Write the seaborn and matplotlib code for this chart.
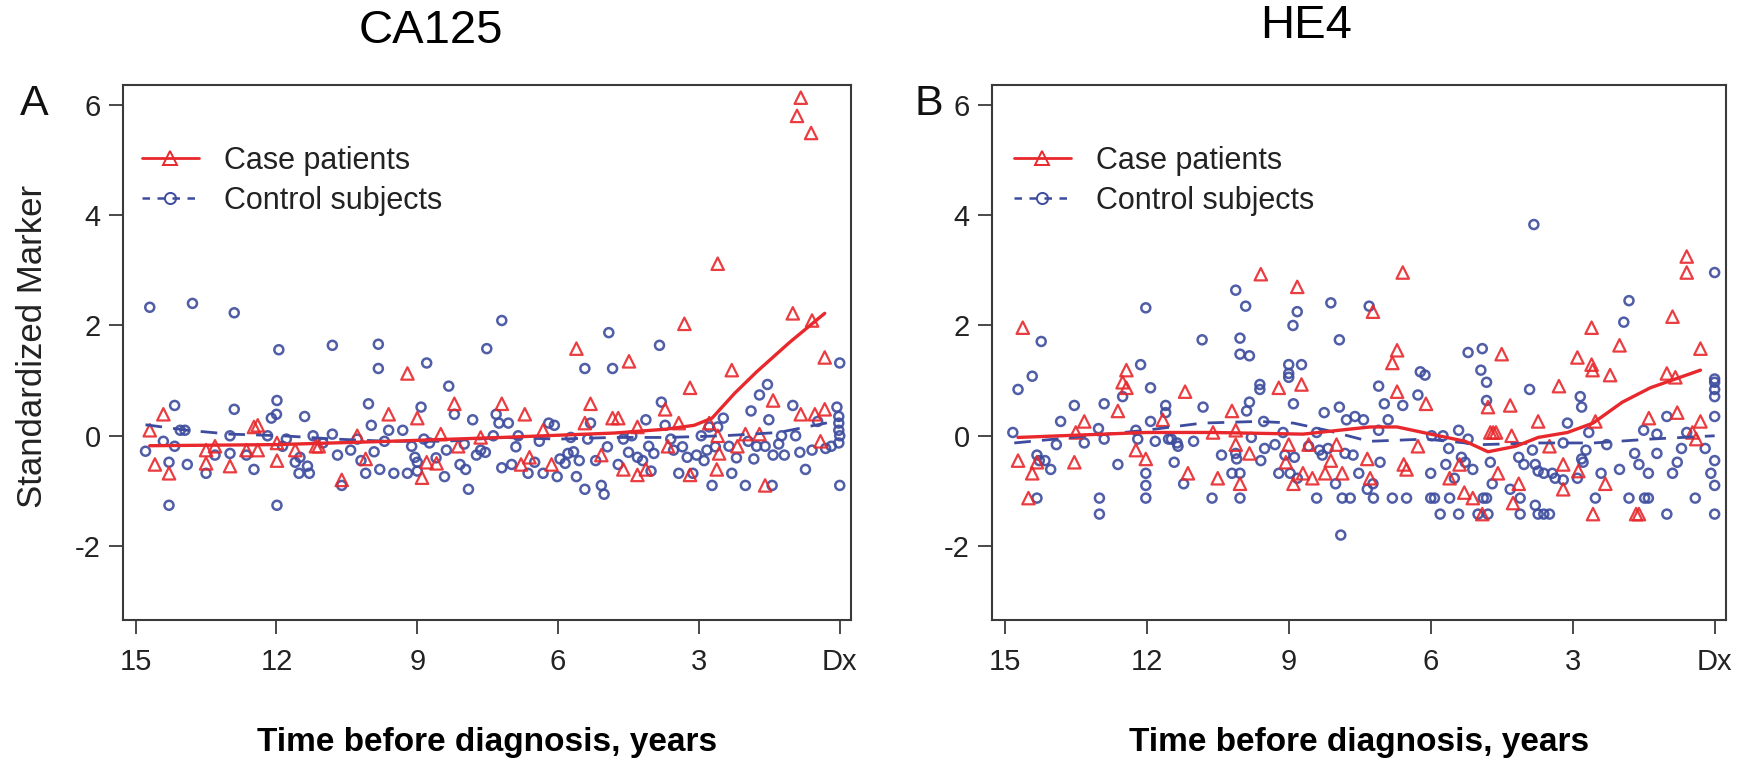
import numpy as np
import pandas as pd
import matplotlib
matplotlib.use("Agg")
import matplotlib.pyplot as plt
from matplotlib.lines import Line2D
import seaborn as sns

# ---------------- data ----------------
# Panel A (CA125)
a_case_t = [14.70, 14.59, 14.41, 14.29, 13.50, 13.50, 13.31, 12.99, 12.64, 12.48, 12.40, 12.40, 11.99, 11.99,
            11.60, 11.16, 11.10, 10.61, 10.28, 10.10, 9.61, 9.21, 9.00, 8.90, 8.80, 8.59, 8.50, 8.21, 8.13,
            7.65, 7.20, 6.71, 6.79, 6.61, 6.32, 6.14, 5.61, 5.43, 5.31, 5.08, 4.84, 4.72, 4.61, 4.49, 4.31,
            4.31, 4.13, 3.72, 3.66, 3.43, 3.31, 3.19, 3.19, 2.78, 2.60, 2.60, 2.57, 2.62, 2.30, 2.18, 2.01,
            1.71, 1.59, 1.42, 1.00, 0.91, 0.83, 0.83, 0.61, 0.59, 0.53, 0.41, 0.32, 0.32]
a_case_v = [0.10, -0.52, 0.39, -0.68, -0.50, -0.26, -0.19, -0.55, -0.26, 0.16, 0.19, -0.26, -0.45, -0.13,
            -0.26, -0.19, -0.19, -0.80, 0.00, -0.42, 0.39, 1.13, 0.32, -0.76, -0.48, -0.50, 0.03, 0.58, -0.19,
            -0.03, 0.58, 0.39, -0.52, -0.39, 0.10, -0.52, 1.58, 0.23, 0.58, -0.35, 0.32, 0.32, -0.61, 1.35, 0.16,
            -0.71, -0.61, 0.48, -0.19, 0.23, 2.03, 0.87, -0.71, 0.23, 3.12, 0.00, -0.32, -0.61, 1.19, -0.19, 0.03,
            0.03, -0.90, 0.64, 2.22, 5.80, 6.13, 0.39, 5.49, 2.09, 0.39, -0.10, 1.42, 0.48]

a_ctrl_t = [14.70, 13.79, 12.90, 14.79, 14.41, 14.29, 14.29, 14.17, 14.17, 14.05, 13.95, 13.90, 13.50, 13.31,
            12.99, 12.99, 12.90, 12.64, 12.48, 12.19, 12.11, 12.00, 11.99, 11.99, 11.95, 11.87, 11.79, 11.60,
            11.52, 11.50, 11.40, 11.34, 11.30, 11.22, 11.01, 10.81, 10.81, 10.61, 10.42, 10.28, 10.10, 10.04,
            9.98, 9.92, 9.83, 9.83, 9.80, 9.61, 9.50, 9.31, 9.21, 9.12, 9.05, 9.00, 9.00, 8.92, 8.86, 8.80,
            8.74, 8.42, 8.38, 8.33, 8.21, 8.09, 7.97, 7.91, 7.82, 7.74, 7.65, 7.52, 7.38, 7.32, 7.26, 7.20,
            7.20, 7.06, 6.99, 6.85, 6.64, 6.50, 6.32, 6.20, 6.08, 6.02, 5.96, 5.79, 5.73, 5.67, 5.61, 5.43,
            5.43, 5.37, 5.31, 5.20, 5.08, 5.02, 4.92, 4.84, 4.72, 4.61, 4.43, 4.31, 4.13, 4.07, 4.02, 3.96,
            3.84, 3.80, 3.72, 3.60, 3.54, 3.43, 3.25, 3.13, 2.95, 2.89, 2.83, 2.78, 2.72, 2.60, 2.48, 2.36,
            2.30, 2.01, 1.89, 1.83, 1.77, 1.71, 1.59, 1.54, 1.51, 1.44, 1.42, 1.24, 1.18, 1.00, 0.94, 0.73,
            0.59, 0.47, 0.30, 0.18, 0.06, 0.02, 0.02, 0.02, 0.00, 0.02, 0.00, 0.00,
            10.70, 10.20, 9.70, 8.60, 8.00, 7.55, 6.90, 6.40, 5.85, 5.55, 4.95, 4.50, 4.20, 3.35, 3.05, 2.65,
            2.20, 1.95, 1.30, 0.85]
a_ctrl_v = [2.33, 2.40, 2.23, -0.28, -0.10, -0.48, -1.26, 0.55, -0.19, 0.10, 0.10, -0.52, -0.68, -0.35,
            -0.32, 0.00, 0.48, -0.35, -0.61, 0.00, 0.32, 0.39, 0.64, -1.26, 1.56, -0.19, -0.06, -0.48,
            -0.68, -0.39, 0.35, -0.55, -0.68, 0.00, -0.13, 0.03, 1.64, -0.90, -0.26, -0.06, -0.68, 0.58,
            0.19, -0.29, 1.66, 1.22, -0.61, 0.10, -0.68, 0.10, -0.68, -0.19, -0.39, -0.48, -0.64, 0.52, -0.06, 1.32,
            -0.13, -0.74, -0.26, 0.90, 0.39, -0.52, -0.61, -0.97, 0.29, -0.35, -0.26, 1.58, 0.00, 0.39, 0.23, 2.09,
            -0.58, 0.23, -0.52, 0.00, -0.68, -0.48, -0.68, 0.23, 0.19, -0.74, -0.42, -0.32, -0.03, -0.29, -0.74, -0.97,
            1.22, -0.06, 0.23, -0.45, -0.90, -1.06, 1.87, 1.22, -0.52, -0.06, 0.00, -0.39, 0.29, -0.19, -0.64, -0.32,
            1.64, 0.61, 0.19, -0.06, -0.26, -0.68, -0.39, -0.68, 0.00, -0.45, -0.26, 0.16, -0.90, 0.16, 0.32, -0.19,
            -0.68, -0.90, 0.45, -0.42, -0.19, 0.74, -0.19, 0.93, 0.29, -0.90, -0.35, 0.00, -0.35, 0.55, 0.00, -0.61,
            -0.26, 0.26, -0.23, -0.19, 0.52, 0.35, 0.23, 0.10, 0.00, -0.13, -0.90, 1.32,
            -0.35, -0.45, -0.10, -0.40, -0.15, -0.30, -0.20, -0.10, -0.50, -0.45, -0.20, -0.30, -0.45, -0.20, -0.35, -0.20,
            -0.40, -0.10, -0.15, -0.30]

a_case_fit_t = [14.70, 12.00, 9.60, 7.20, 6.00, 4.80, 3.70, 3.10, 2.72, 2.24, 1.77, 1.06, 0.32]
a_case_fit_v = [-0.18, -0.16, -0.10, -0.03, 0.01, 0.05, 0.12, 0.19, 0.32, 0.77, 1.16, 1.70, 2.22]
a_ctrl_fit_t = [14.79, 13.90, 12.99, 11.87, 10.75, 9.60, 8.40, 7.20, 6.00, 4.84, 3.66, 2.48, 1.30, 0.00]
a_ctrl_fit_v = [0.20, 0.10, 0.03, 0.00, -0.06, -0.10, -0.10, -0.03, -0.06, -0.03, -0.03, 0.00, 0.06, 0.28]

# Panel B (HE4)
b_case_t = [14.72, 14.62, 14.50, 14.42, 14.32, 13.53, 13.50, 13.32, 12.61, 12.51, 12.43, 12.43, 12.23, 12.02,
            11.66, 11.19, 11.13, 10.60, 10.50, 10.20, 10.12, 10.12, 10.03, 9.83, 9.59, 9.21, 9.06, 9.00, 8.90,
            8.82, 8.73, 8.70, 8.58, 8.50, 8.23, 8.11, 7.99, 7.87, 7.34, 7.28, 7.22, 6.81, 6.71, 6.71, 6.59,
            6.57, 6.51, 6.27, 6.10, 5.60, 5.39, 5.29, 5.11, 4.91, 4.79, 4.74, 4.68, 4.62, 4.58, 4.50, 4.32,
            4.29, 4.26, 4.14, 3.73, 3.49, 3.29, 3.20, 3.20, 2.90, 2.88, 2.60, 2.60, 2.58, 2.57, 2.52, 2.31,
            2.21, 2.01, 1.66, 1.60, 1.39, 1.01, 0.89, 0.83, 0.79, 0.59, 0.59, 0.47, 0.39, 0.30, 0.30]
b_case_v = [-0.45, 1.96, -1.13, -0.68, -0.48, -0.48, 0.06, 0.26, 0.45, 0.97, 1.19, 0.87, -0.26, -0.42,
            0.29, 0.80, -0.68, 0.06, -0.77, 0.45, 0.10, -0.16, -0.87, -0.32, 2.93, 0.87, -0.48, -0.16, -0.87,
            2.70, 0.93, -0.68, -0.16, -0.77, -0.68, -0.45, -0.16, -0.68, -0.42, -0.77, 2.25, 1.32, 1.55, 0.80, 2.96,
            -0.52, -0.61, -0.19, 0.58, -0.77, -0.52, -1.03, -1.13, -1.42, 0.52, 0.06, 0.06, 0.06, -0.68, 1.48, 0.55,
            0.00, -1.22, -0.87, 0.26, -0.19, 0.90, -0.52, -0.97, 1.42, -0.64, 1.96, 1.29, 1.19, -1.42, 0.26, -0.87,
            1.10, 1.64, -1.42, -1.42, 0.32, 1.13, 2.16, 1.06, 0.42, 3.25, 2.96, 0.06, -0.06, 1.58, 0.26]

b_ctrl_t = [14.83, 14.72, 14.42, 14.32, 14.27, 14.15, 14.03, 14.32, 14.23, 13.91, 13.82, 13.53, 13.32, 13.02,
            13.00, 13.00, 12.90, 12.90, 12.61, 12.51, 12.23, 12.19, 12.13, 12.02, 12.02, 12.02, 12.02, 11.92,
            11.92, 11.82, 11.60, 11.60, 11.54, 11.48, 11.42, 11.36, 11.34, 11.22, 11.01, 10.83, 10.81, 10.62,
            10.42, 10.20, 10.12, 10.12, 10.10, 10.03, 10.03, 10.03, 10.03, 9.91, 9.89, 9.83, 9.83, 9.79, 9.61,
            9.61, 9.59, 9.53, 9.51, 9.29, 9.21, 9.12, 9.08, 9.00, 9.00, 9.00, 8.97, 8.91, 8.90, 8.88, 8.82, 8.82,
            8.73, 8.58, 8.41, 8.41, 8.35, 8.29, 8.25, 8.17, 8.11, 8.01, 7.93, 7.93, 7.90, 7.87, 7.81, 7.78, 7.70,
            7.64, 7.60, 7.52, 7.42, 7.34, 7.30, 7.22, 7.21, 7.10, 7.10, 7.07, 6.98, 6.90, 6.81, 6.59, 6.51, 6.27,
            6.22, 6.12, 6.00, 6.00, 5.92, 5.98, 5.80, 5.74, 5.68, 5.62, 5.60, 5.50, 5.41, 5.41, 5.35, 5.27, 5.21,
            5.21, 5.11, 5.00, 4.94, 4.91, 4.89, 4.82, 4.82, 4.82, 4.79, 4.74, 4.70, 4.32, 4.14, 4.11, 4.11, 4.03,
            3.91, 3.82, 3.85, 3.79, 3.73, 3.79, 3.73, 3.61, 3.49, 3.61, 3.43, 3.37, 3.20, 3.20, 3.11, 2.90, 2.84,
            2.81, 2.81, 2.78, 2.66, 2.72, 2.52, 2.40, 2.28, 2.01, 1.92, 1.81, 1.81, 1.69, 1.60, 1.50, 1.48, 1.40,
            1.40, 1.22, 1.22, 1.01, 1.01, 0.89, 0.79, 0.70, 0.59, 0.41, 0.20, 0.08, 0.00, 0.00, 0.00, 0.00, 0.00,
            0.00, 0.00, 0.00, 0.00]
b_ctrl_v = [0.06, 0.84, 1.08, -0.35, -0.45, -0.45, -0.61, -1.13, 1.71, -0.16, 0.26, 0.55, -0.13, 0.13,
            -1.13, -1.42, 0.58, -0.06, -0.52, 0.71, 0.10, -0.06, 1.29, 2.32, -0.68, -0.90, -1.13, 0.87,
            0.26, -0.10, 0.55, 0.42, -0.06, -0.06, -0.48, -0.13, -0.19, -0.87, -0.10, 1.74, 0.52, -1.13,
            -0.35, -0.68, 2.64, -0.32, -0.42, 1.77, 1.48, -0.68, -1.13, 2.35, 0.45, 1.45, 0.61, -0.03, 0.93,
            0.84, -0.45, 0.26, -0.23, -0.16, -0.68, 0.06, -0.35, 1.29, 1.13, 1.06, -0.68, 2.00, 0.58, -0.39, 2.25, -0.77,
            1.29, -0.19, 0.06, -1.13, -0.26, -0.35, 0.42, -0.23, 2.41, -0.87, 0.52, 1.74, -1.80, -1.13, -0.32, 0.29, -1.13,
            -0.35, 0.35, -0.68, 0.29, -0.97, 2.35, -0.87, -1.13, 0.90, 0.10, -0.48, 0.58, 0.29, -1.13, 0.55, -1.13, 0.74,
            1.16, 1.10, -0.68, -1.13, -1.13, 0.00, -1.42, 0.00, -0.52, -0.23, -1.13, -0.77, 0.10, -1.42, -0.39, -0.48, -0.06,
            1.51, -0.61, -1.42, 1.19, 1.58, -1.13, -1.13, 0.97, 0.64, -1.42, -0.48, -0.87, -0.97, -0.39, -1.13, -1.42, -0.52,
            0.84, 3.83, -0.26, -0.52, -0.64, -1.26, -1.42, -1.42, -1.42, -0.68, -0.68, -0.77, -0.13, -0.80, 0.23, -0.77, 0.71,
            0.52, -0.42, -0.48, 0.06, -0.26, -1.13, -0.68, -0.16, -0.61, 2.06, 2.45, -1.13, -0.32, -0.52, 0.10, -1.13, -1.13,
            -0.68, 0.03, -0.32, 0.35, -1.42, -0.68, -0.48, -0.23, 0.06, -1.13, -0.23, -0.68, 2.96, 1.03, 0.97, 0.84, 0.71,
            0.35, -0.45, -0.90, -1.42]

b_case_fit_t = [14.72, 12.02, 10.60, 8.70, 7.28, 6.71, 6.00, 5.27, 4.79, 4.20, 3.73, 3.11, 2.57, 1.95, 1.36, 0.30]
b_case_fit_v = [-0.03, 0.06, 0.06, 0.03, 0.16, 0.16, 0.03, -0.10, -0.29, -0.19, -0.03, 0.06, 0.23, 0.61, 0.87, 1.19]
b_ctrl_fit_t = [14.80, 13.20, 12.02, 10.83, 9.65, 8.90, 8.20, 7.30, 6.10, 4.91, 3.73, 2.55, 1.36, 0.00]
b_ctrl_fit_v = [-0.13, 0.00, 0.10, 0.23, 0.26, 0.23, 0.10, -0.10, -0.06, -0.16, -0.13, -0.13, -0.06, 0.00]

titles = ["CA125", "HE4"]
panel_letters = ["A", "B"]
x_ticks = [15, 12, 9, 6, 3, 0]
x_tick_labels = ["15", "12", "9", "6", "3", "Dx"]
y_ticks = [-2, 0, 2, 4, 6]
legend_labels = ["Case patients", "Control subjects"]
x_label = "Time before diagnosis, years"
y_label = "Standardized Marker"

# ---------------- style ----------------
sns.set_style("white")
plt.rcParams["font.family"] = ["Liberation Sans", "DejaVu Sans"]
plt.rcParams["axes.unicode_minus"] = False

RED = "#E8282C"
BLUE = "#3D4C9E"
DARK = "#3a3a3a"

W, H = 1740, 765
fig = plt.figure(figsize=(W / 100, H / 100), dpi=100)

axes_px = [(123, 851), (992, 1726)]
top_px, bot_px = 85, 620

panels = [
    (a_case_t, a_case_v, a_ctrl_t, a_ctrl_v, a_case_fit_t, a_case_fit_v, a_ctrl_fit_t, a_ctrl_fit_v),
    (b_case_t, b_case_v, b_ctrl_t, b_ctrl_v, b_case_fit_t, b_case_fit_v, b_ctrl_fit_t, b_ctrl_fit_v),
]

title_pos = [(431, 31), (1306, 26)]
letter_pos = [(34, 104), (929, 104)]
legend_pos = [142, 1014]

for i, (ct, cv, nt, nv, cft, cfv, nft, nfv) in enumerate(panels):
    l, r = axes_px[i]
    ax = fig.add_axes([l / W, (H - bot_px) / H, (r - l) / W, (bot_px - top_px) / H])
    case_df = pd.DataFrame({"t": ct, "v": cv})
    ctrl_df = pd.DataFrame({"t": nt, "v": nv})
    sns.scatterplot(data=ctrl_df, x="t", y="v", ax=ax, marker="o", s=42,
                    facecolors="none", edgecolor=BLUE, linewidth=1.8, alpha=0.9, zorder=2)
    sns.scatterplot(data=case_df, x="t", y="v", ax=ax, marker="^", s=80,
                    facecolors="none", edgecolor=RED, linewidth=1.6, alpha=0.9, zorder=3)
    sns.lineplot(x=nft, y=nfv, ax=ax, color=BLUE, lw=2.0, linestyle=(0, (6, 4)),
                 sort=False, estimator=None, zorder=4)
    sns.lineplot(x=cft, y=cfv, ax=ax, color=RED, lw=2.4, sort=False, estimator=None, zorder=5)

    ax.set_xlim(15.27, -0.24)
    ax.set_ylim(-3.34, 6.36)
    ax.set_xticks(x_ticks)
    ax.set_xticklabels(x_tick_labels)
    ax.set_yticks(y_ticks)
    ax.set_yticklabels([str(v) for v in y_ticks])
    ax.tick_params(axis="x", direction="out", length=10, width=1.3, color=DARK, pad=10,
                   labelsize=21, labelcolor="#222222", bottom=True)
    ax.tick_params(axis="y", direction="out", length=10, width=1.3, color=DARK, pad=6,
                   labelsize=21, labelcolor="#222222", left=True)
    for sp in ax.spines.values():
        sp.set_visible(True)
        sp.set_color(DARK)
        sp.set_linewidth(1.5)
    ax.set_xlabel("")
    ax.set_ylabel("")
    ax.grid(False)

    # x label
    fig.text(((l + r) / 2) / W, 1 - 742 / H, x_label, ha="center", va="center",
             fontsize=24, fontweight="bold", color="black")
    # title
    fig.text(title_pos[i][0] / W, 1 - title_pos[i][1] / H, titles[i], ha="center", va="center",
             fontsize=34, color="black")
    # panel letter
    fig.text(letter_pos[i][0] / W, 1 - letter_pos[i][1] / H, panel_letters[i], ha="center", va="center",
             fontsize=31, color="#111111")

    handles = [
        Line2D([], [], color=RED, lw=2.0, marker="^", markersize=10, markerfacecolor="none",
               markeredgecolor=RED, markeredgewidth=1.4),
        Line2D([], [], color=BLUE, lw=1.8, linestyle=(0, (3, 3)), marker="o", markersize=8,
               markerfacecolor="none", markeredgecolor=BLUE, markeredgewidth=1.4),
    ]
    leg = ax.legend(handles, legend_labels, loc="upper left",
                    bbox_to_anchor=(legend_pos[i] / W, 1 - 146 / H),
                    bbox_transform=fig.transFigure, frameon=False, fontsize=22,
                    handlelength=1.85, handletextpad=0.85, labelspacing=0.32,
                    borderpad=0, borderaxespad=0, numpoints=1)
    for t in leg.get_texts():
        t.set_color("#222222")

fig.text(33 / W, 1 - 346 / H, y_label, rotation=90, ha="center", va="center",
         fontsize=25, color="#222222")

fig.savefig("out.png", dpi=100)
